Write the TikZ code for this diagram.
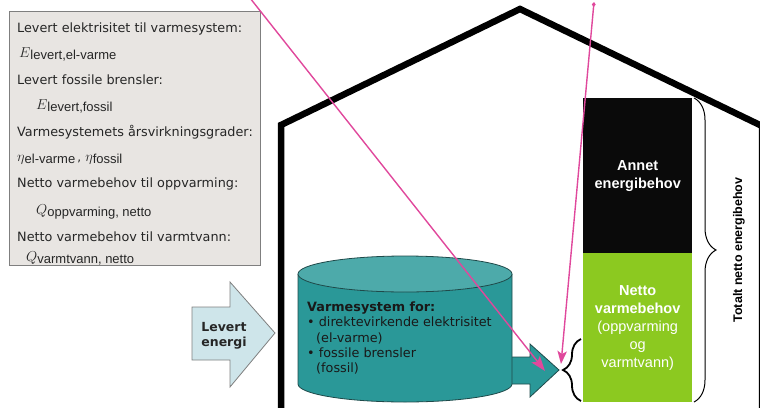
\documentclass[tikz,border=0pt]{standalone}
\usepackage{fontspec}
\setmainfont{DejaVu Sans}
\newfontfamily\arialf{Liberation Sans}
\usetikzlibrary{arrows.meta,decorations.pathreplacing}
\definecolor{boxgray}{HTML}{E8E5E2}
\definecolor{boxline}{HTML}{7F7F7F}
\definecolor{tealbody}{HTML}{2A9898}
\definecolor{tealtop}{HTML}{4DAAAA}
\definecolor{tealline}{HTML}{1F4A4A}
\definecolor{lightblue}{HTML}{CEE5EA}
\definecolor{greenbox}{HTML}{8CC920}
\definecolor{pinkline}{HTML}{E0489C}
\newcommand\symsub[2]{{\fontsize{15.5}{15}\selectfont$#1$}\raisebox{-2.5pt}{\arialf\fontsize{13}{13}\selectfont #2}}
\begin{document}
\begin{tikzpicture}[x=1pt,y=-1pt,
  infotxt/.style={font=\fontsize{12.8}{14}\selectfont, anchor=base west, inner sep=0pt, text=black!85},
  pinktip/.style={-{Stealth[length=15pt,width=10.5pt,inset=3pt]}},
  pinkarrow/.style={draw=pinkline, line width=1.4pt, pinktip},
  stackbox/.style={anchor=north west, inner sep=0pt, minimum width=109pt, align=center, text=white,
     font=\arialf\fontsize{14.5}{18}\selectfont},
  tealshape/.style={fill=tealbody, draw=tealline, line width=0.8pt},
]
\useasboundingbox (0,0) rectangle (760,407);
% house
\begin{scope}
\clip (0,0) rectangle (760,407);
\draw[line width=6.5pt, miter limit=10] (281,415) -- (281,125) -- (520,9) -- (762,126) -- (762,415);
\end{scope}
% info box
\node[draw=boxline, fill=boxgray, line width=1pt, minimum width=251pt, minimum height=254pt,
      anchor=north west, inner sep=0pt] (infobox) at (9,11) {};
\node[infotxt] (l1) at (17,32) {Levert elektrisitet til varmesystem:};
\node[infotxt] (l2) at (19,57) {\symsub{E}{levert,el-varme}};
\node[infotxt] (l3) at (17,84) {Levert fossile brensler:};
\node[infotxt] (l4) at (36,109) {\symsub{E}{levert,fossil}};
\node[infotxt] (l5) at (17,136) {Varmesystemets årsvirkningsgrader:};
\node[infotxt] (l6) at (17,161) {\symsub{\eta}{el-varme\,}{\fontsize{12}{12}\selectfont,} \symsub{\eta}{fossil}};
\node[infotxt] (l7) at (17,187) {Netto varmebehov til oppvarming:};
\node[infotxt] (l8) at (36,214) {\symsub{Q}{oppvarming, netto}};
\node[infotxt] (l9) at (17,241) {Netto varmebehov til varmtvann:};
\node[infotxt] (l10) at (26,261) {\symsub{Q}{varmtvann, netto}};
% input arrow
\draw[fill=lightblue, draw=boxline, line width=0.8pt]
  (192,307) -- (230,307) -- (230,282) -- (275,333) -- (230,387) -- (230,360) -- (192,360) -- cycle;
\node[font=\bfseries\fontsize{12.5}{15}\selectfont, align=center, text=black!85] (levert) at (224,336) {Levert\\energi};
% output block arrow
\draw[tealshape] (505,357) -- (530,357) -- (530,344) -- (559,370) -- (530,397) -- (530,384) -- (505,384);
% cylinder
\fill[tealbody] (298,274) -- (298,384) arc[start angle=180,end angle=360,x radius=107pt,y radius=18pt] -- (512,274) -- cycle;
\draw[draw=tealline, line width=0.8pt] (298,274) -- (298,384) arc[start angle=180,end angle=360,x radius=107pt,y radius=18pt] -- (512,274);
\draw[fill=tealtop, draw=tealline, line width=0.8pt] (405,274) ellipse [x radius=107pt, y radius=18pt];
\node[anchor=north west, align=left, inner sep=0pt, text=black!90, font=\fontsize{12.8}{15.3}\selectfont] (cyltext) at (307,301.5)
  {\textbf{Varmesystem for:}\\• direktevirkende elektrisitet\\\hspace*{9pt}(el-varme)\\• fossile brensler\\\hspace*{9pt}(fossil)};
% stack
\node[stackbox, fill=black!96, minimum height=155pt] (annet) at (583,98) {\bfseries Annet\\\bfseries energibehov};
\node[stackbox, fill=greenbox, minimum height=149pt] (netto) at (583,253)
  {\bfseries Netto\\\bfseries varmebehov\\(oppvarming\\og\\varmtvann)};
% braces
\draw[decorate, decoration={brace, amplitude=18pt}, line width=1.8pt] (581,401) -- (581,339);
\draw[decorate, decoration={brace, amplitude=22pt}, line width=1pt] (694,98) -- (694,402);
\node[rotate=90, font=\arialf\bfseries\fontsize{12.5}{14}\selectfont] (total) at (739,250) {Totalt netto energibehov};
% pink connectors
\coordinate (p1) at (250,-2);
\coordinate (t1) at (545,371);
\coordinate (p2) at (594,2);
\coordinate (t2) at (561,364);
\draw[pinkarrow] (p1) -- (t1);
\draw[pinkarrow, {Diamond[open,length=5pt,width=4pt]}-{Stealth[length=13pt,width=9.5pt,inset=3pt]}] (p2) -- (t2);
\end{tikzpicture}
\end{document}
